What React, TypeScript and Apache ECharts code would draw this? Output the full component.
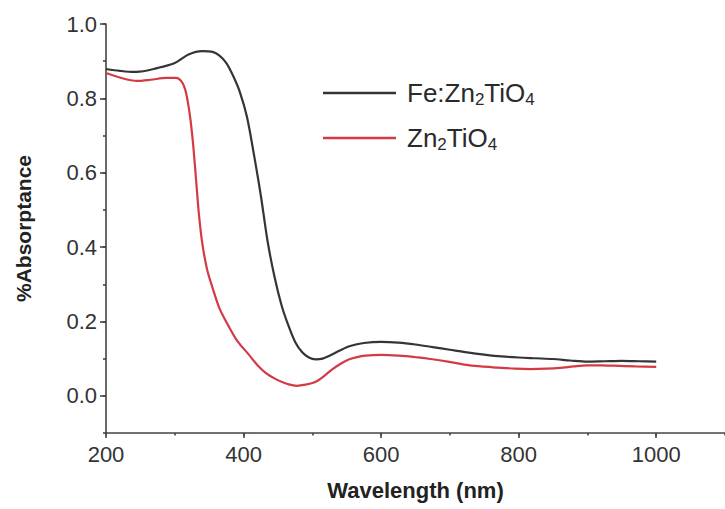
import React, { useEffect, useRef } from "react";
import * as echarts from "echarts";

const feWavelength = [200, 220, 240, 260, 280, 300, 320, 340, 355, 365, 375, 385, 395, 405, 415, 425, 435, 445, 455, 465, 475, 485, 495, 505, 515, 525, 540, 555, 575, 600, 625, 650, 675, 700, 725, 750, 775, 800, 825, 850, 875, 900, 925, 950, 975, 1000];
const feAbs = [0.879, 0.874, 0.871, 0.875, 0.884, 0.895, 0.918, 0.927, 0.925, 0.915, 0.895, 0.86, 0.815, 0.75, 0.65, 0.54, 0.415, 0.32, 0.245, 0.19, 0.145, 0.118, 0.103, 0.098, 0.1, 0.108, 0.122, 0.134, 0.142, 0.145, 0.143, 0.138, 0.131, 0.124, 0.117, 0.111, 0.106, 0.103, 0.101, 0.099, 0.095, 0.092, 0.093, 0.094, 0.093, 0.092];

const znWavelength = [200, 220, 245, 265, 288, 302, 310, 315, 319, 323, 327, 331, 335, 340, 347, 355, 365, 376, 390, 408, 420, 432, 445, 456, 467, 477, 490, 505, 517, 528, 540, 552, 565, 577, 600, 625, 650, 672, 697, 721, 745, 769, 795, 817, 841, 860, 880, 899, 920, 938, 970, 1000];
const znAbs = [0.868, 0.856, 0.847, 0.85, 0.855, 0.855, 0.845, 0.825, 0.79, 0.74, 0.67, 0.58, 0.49, 0.41, 0.34, 0.29, 0.235, 0.195, 0.15, 0.11, 0.083, 0.062, 0.047, 0.037, 0.03, 0.027, 0.03, 0.038, 0.053, 0.07, 0.085, 0.097, 0.104, 0.108, 0.11, 0.108, 0.104, 0.099, 0.092, 0.084, 0.079, 0.076, 0.073, 0.072, 0.073, 0.075, 0.079, 0.082, 0.082, 0.081, 0.079, 0.078];

const xTickLabels = [200, 400, 600, 800, 1000];
const yTickLabels = [0, 0.2, 0.4, 0.6, 0.8, 1.0];

const seriesNames = ["Fe:Zn2TiO4", "Zn2TiO4"];

const FONT = "'Liberation Sans', Arial, Helvetica, sans-serif";
const AXIS_COLOR = "#444";
const TEXT_COLOR = "#333";

export default function App() {
  const ref = useRef<HTMLDivElement>(null);
  useEffect(() => {
    if (!ref.current) return;
    const chart = echarts.init(ref.current, undefined, { renderer: "svg" });
    const pair = (xs: number[], ys: number[]) => xs.map((x, i) => [x, ys[i]]);
    const axisLineStyle = { color: AXIS_COLOR, width: 1.6 };
    chart.setOption({
      animation: false,
      backgroundColor: "#fff",
      textStyle: { fontFamily: FONT },
      grid: { left: 106, right: -4, top: 24, bottom: 76, containLabel: false },
      legend: {
        orient: "vertical",
        left: 323,
        top: 80,
        padding: 0,
        icon: "rect",
        itemWidth: 73,
        itemHeight: 2.4,
        itemGap: 17,
        data: seriesNames,
        formatter: (name: string) =>
          name === "Fe:Zn2TiO4"
            ? "{a|Fe:Zn}{s|2}{a|TiO}{s|4}"
            : "{a|Zn}{s|2}{a|TiO}{s|4}",
        textStyle: {
          padding: [0, 0, 0, 6],
          rich: {
            a: { fontSize: 26, lineHeight: 30, color: "#2a2a2a", fontFamily: FONT },
            s: { fontSize: 17, lineHeight: 18, verticalAlign: "bottom", color: "#2a2a2a", fontFamily: FONT },
          },
        },
      },
      xAxis: [
        {
          type: "value",
          min: 200,
          max: 1100,
          interval: 100,
          name: "Wavelength (nm)",
          nameLocation: "middle",
          nameGap: 46,
          nameTextStyle: { fontSize: 22, fontWeight: "bold", color: "#222", fontFamily: FONT },
          axisLine: { show: true, onZero: false, lineStyle: axisLineStyle },
          axisTick: { show: true, length: 5, customValues: xTickLabels, lineStyle: axisLineStyle },
          axisLabel: {
            customValues: xTickLabels,
            fontSize: 22,
            color: TEXT_COLOR,
            margin: 10,
            fontFamily: FONT,
            formatter: (v: number) => String(v),
          },
          splitLine: { show: false },
        },
        {
          type: "value",
          min: 200,
          max: 1100,
          interval: 100,
          position: "bottom",
          axisLine: { show: false, onZero: false },
          axisTick: { show: true, length: 2.5, lineStyle: axisLineStyle },
          axisLabel: { show: false },
          splitLine: { show: false },
        },
      ],
      yAxis: [
        {
          type: "value",
          min: -0.1,
          max: 1.0,
          interval: 0.1,
          name: "%Absorptance",
          nameLocation: "middle",
          nameGap: 72,
          nameTextStyle: { fontSize: 21, fontWeight: "bold", color: "#222", fontFamily: FONT },
          axisLine: { show: true, onZero: false, lineStyle: axisLineStyle },
          axisTick: { show: true, length: 6, customValues: yTickLabels, lineStyle: axisLineStyle },
          axisLabel: {
            customValues: yTickLabels,
            fontSize: 22,
            color: TEXT_COLOR,
            margin: 9,
            fontFamily: FONT,
            formatter: (v: number) => v.toFixed(1),
          },
          splitLine: { show: false },
        },
        {
          type: "value",
          min: -0.1,
          max: 1.0,
          interval: 0.1,
          position: "left",
          axisLine: { show: false, onZero: false },
          axisTick: { show: true, length: 3, lineStyle: axisLineStyle },
          axisLabel: { show: false },
          splitLine: { show: false },
        },
      ],
      series: [
        {
          name: seriesNames[0],
          type: "line",
          xAxisIndex: 0,
          yAxisIndex: 0,
          data: pair(feWavelength, feAbs),
          showSymbol: false,
          symbol: "none",
          smooth: 0.3,
          lineStyle: { color: "#353535", width: 2.2 },
          itemStyle: { color: "#353535" },
        },
        {
          name: seriesNames[1],
          type: "line",
          xAxisIndex: 0,
          yAxisIndex: 0,
          data: pair(znWavelength, znAbs),
          showSymbol: false,
          symbol: "none",
          smooth: 0.3,
          lineStyle: { color: "#d23b43", width: 2.2 },
          itemStyle: { color: "#d23b43" },
        },
      ],
    });
    return () => chart.dispose();
  }, []);
  return (
    <div
      ref={ref}
      style={{ position: "fixed", left: 0, top: 0, width: 725, height: 509, background: "#fff" }}
    />
  );
}
